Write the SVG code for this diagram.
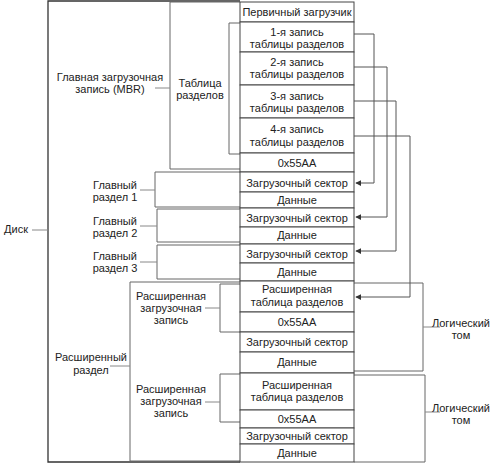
<svg xmlns="http://www.w3.org/2000/svg" width="496" height="464" viewBox="0 0 496 464">
<defs>
<style>
text{font-family:"Liberation Sans",Arial,sans-serif;font-size:11px;fill:#222;text-anchor:middle}
.cell{fill:#fff;stroke:#444;stroke-width:1}
.br{fill:none;stroke:#666;stroke-width:1}
.disk{fill:none;stroke:#333;stroke-width:1.3}
.dash{fill:none;stroke:#888;stroke-width:1}
.con{fill:none;stroke:#555;stroke-width:1}
</style>
<marker id="ah" viewBox="0 0 8 8" refX="7" refY="4" markerWidth="6" markerHeight="6" orient="auto">
<path d="M0,0 L8,4 L0,8 z" fill="#333"/>
</marker>
</defs>
<rect width="496" height="464" fill="#fff"/>

<g id="disk"><path class="disk" d="M240,1 H48 V462 H240"/><path class="dash" d="M32,230 H48"/><text x="16" y="233">Диск</text></g>

<g id="mbr"><path class="br" d="M240,2 H170 V169 H240"/><path class="dash" d="M155,88 H170"/><text x="110" y="81">Главная загрузочная</text><text x="110" y="93">запись (MBR)</text></g>

<g id="ptable"><path class="br" d="M240,23 H229 V154 H240"/><text x="200" y="87">Таблица</text><text x="200" y="99">разделов</text></g>

<g id="primary1"><path class="br" d="M240,172 H155 V207 H240"/><path class="dash" d="M140,190 H155"/><text x="115" y="189">Главный</text><text x="115" y="201">раздел 1</text></g>
<g id="primary2"><path class="br" d="M240,209 H157 V242 H240"/><path class="dash" d="M140,226 H157"/><text x="115" y="225">Главный</text><text x="115" y="237">раздел 2</text></g>
<g id="primary3"><path class="br" d="M240,245 H157 V279 H240"/><path class="dash" d="M140,262 H157"/><text x="115" y="260">Главный</text><text x="115" y="272">раздел 3</text></g>

<g id="extended"><path class="br" d="M240,282 H130 V461 H240"/><path class="dash" d="M110,366 H130"/><text x="91" y="361">Расширенный</text><text x="91" y="374">раздел</text></g>

<g id="ebr1"><path class="br" d="M240,284 H220 V332 H240"/><path class="dash" d="M205,308 H220"/><text x="171" y="300">Расширенная</text><text x="171" y="312">загрузочная</text><text x="171" y="324">запись</text></g>
<g id="ebr2"><path class="br" d="M240,374 H220 V422 H240"/><path class="dash" d="M205,402 H220"/><text x="171" y="393">Расширенная</text><text x="171" y="405">загрузочная</text><text x="171" y="417">запись</text></g>

<g id="logical1"><path class="br" d="M354,283 H423 V371 H354"/><path class="dash" d="M423,327 H440"/><text x="461" y="327">Логический</text><text x="461" y="339">том</text></g>
<g id="logical2"><path class="br" d="M354,375 H425 V462 H354"/><path class="dash" d="M425,412 H440"/><text x="461" y="412">Логический</text><text x="461" y="424">том</text></g>

<g id="column">
<rect class="cell" x="240" y="2" width="114" height="20"/><text x="297" y="16">Первичный загрузчик</text>
<rect class="cell" x="240" y="22" width="114" height="30"/><text x="297" y="36">1-я запись</text><text x="297" y="48">таблицы разделов</text>
<rect class="cell" x="240" y="52" width="114" height="33"/><text x="297" y="66">2-я запись</text><text x="297" y="78">таблицы разделов</text>
<rect class="cell" x="240" y="85" width="114" height="33"/><text x="297" y="100">3-я запись</text><text x="297" y="112">таблицы разделов</text>
<rect class="cell" x="240" y="118" width="114" height="35"/><text x="297" y="133">4-я запись</text><text x="297" y="146">таблицы разделов</text>
<rect class="cell" x="240" y="153" width="114" height="19"/><text x="297" y="167">0x55AA</text>
<rect class="cell" x="240" y="172" width="114" height="20"/><text x="297" y="187">Загрузочный сектор</text>
<rect class="cell" x="240" y="192" width="114" height="16"/><text x="297" y="204">Данные</text>
<rect class="cell" x="240" y="208" width="114" height="19"/><text x="297" y="222">Загрузочный сектор</text>
<rect class="cell" x="240" y="227" width="114" height="17"/><text x="297" y="239">Данные</text>
<rect class="cell" x="240" y="244" width="114" height="19"/><text x="297" y="258">Загрузочный сектор</text>
<rect class="cell" x="240" y="263" width="114" height="18"/><text x="297" y="276">Данные</text>
<rect class="cell" x="240" y="281" width="114" height="31"/><text x="297" y="293">Расширенная</text><text x="297" y="306">таблица разделов</text>
<rect class="cell" x="240" y="312" width="114" height="20"/><text x="297" y="326">0x55AA</text>
<rect class="cell" x="240" y="332" width="114" height="20"/><text x="297" y="346">Загрузочный сектор</text>
<rect class="cell" x="240" y="352" width="114" height="21"/><text x="297" y="366">Данные</text>
<rect class="cell" x="240" y="373" width="114" height="37"/><text x="297" y="389">Расширенная</text><text x="297" y="401">таблица разделов</text>
<rect class="cell" x="240" y="410" width="114" height="18"/><text x="297" y="423">0x55AA</text>
<rect class="cell" x="240" y="428" width="114" height="16"/><text x="297" y="440">Загрузочный сектор</text>
<rect class="cell" x="240" y="444" width="114" height="18"/><text x="297" y="457">Данные</text>
</g>

<g id="connectors">
<path class="con" d="M354,34 H374 V183 H356" marker-end="url(#ah)"/>
<path class="con" d="M354,67 H387 V217 H356" marker-end="url(#ah)"/>
<path class="con" d="M354,101 H396 V251 H356" marker-end="url(#ah)"/>
<path class="con" d="M354,136 H410 V297 H356" marker-end="url(#ah)"/>
</g>
</svg>
